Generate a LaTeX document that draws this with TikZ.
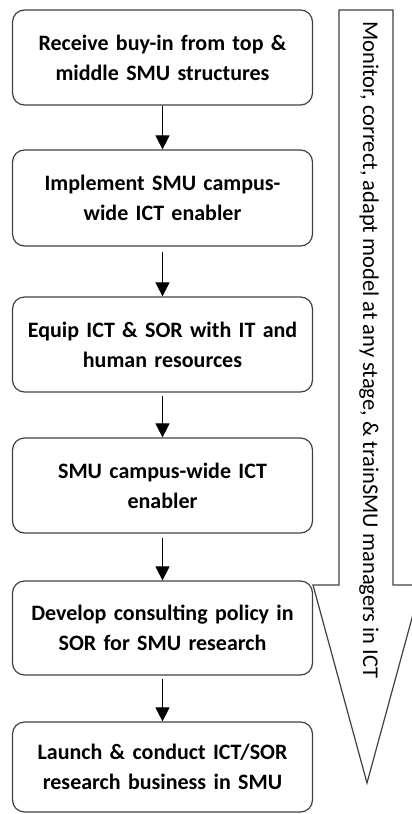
\documentclass[tikz,border=0pt]{standalone}
\usepackage{fontspec}
\setmainfont{Carlito}
\usetikzlibrary{arrows.meta}
\begin{document}
\begin{tikzpicture}[x=1pt,y=1pt,
  stepbox/.style={draw=black!75,line width=1.2pt,rounded corners=12pt,
    minimum width=300pt,inner sep=0pt,text width=290pt,align=center,
    font=\bfseries\fontsize{22}{30}\selectfont},
  flow/.style={-{Triangle[width=14pt,length=14pt]},line width=1pt,black},
  bigarrow/.style={draw=black!75,line width=1.2pt,line join=miter}]
\useasboundingbox (0,0) rectangle (412,-814);
\node[stepbox,minimum height=95pt] (b1) at (162.5,-57.5) {Receive buy-in from top \&\\middle SMU structures};
\node[stepbox,minimum height=96pt] (b2) at (162.5,-198) {Implement SMU campus-\\wide ICT enabler};
\node[stepbox,minimum height=95pt] (b3) at (162.5,-344.5) {Equip ICT \& SOR with IT and\\human resources};
\node[stepbox,minimum height=95pt] (b4) at (162.5,-485.5) {SMU campus-wide ICT\\enabler};
\node[stepbox,minimum height=94pt] (b5) at (162.5,-628) {Develop consulting policy in\\SOR for SMU research};
\node[stepbox,minimum height=90pt] (b6) at (162.5,-767) {Launch \& conduct ICT/SOR\\research business in SMU};
\draw[flow] (b1) -- (b2);
\draw[flow,shorten <=5pt] (b2) -- (b3);
\draw[flow,shorten <=3pt] (b3) -- (b4);
\draw[flow,shorten <=4pt] (b4) -- (b5);
\draw[flow,shorten <=3pt] (b5) -- (b6);
\coordinate (a1) at (339,-10);
\coordinate (a2) at (393,-10);
\coordinate (a3) at (393,-585);
\coordinate (a4) at (421,-585);
\coordinate (tip) at (367,-783);
\coordinate (a6) at (313,-585);
\coordinate (a7) at (339,-585);
\draw[bigarrow] (a1) -- (a2) -- (a3) -- (a4) -- (tip) -- (a6) -- (a7) -- cycle;
\node[rotate=-90,font=\fontsize{22.5}{26}\selectfont,inner sep=0pt] (lbl) at (369,-350) {Monitor, correct, adapt model at any stage, \& trainSMU managers in ICT};
\end{tikzpicture}
\end{document}
